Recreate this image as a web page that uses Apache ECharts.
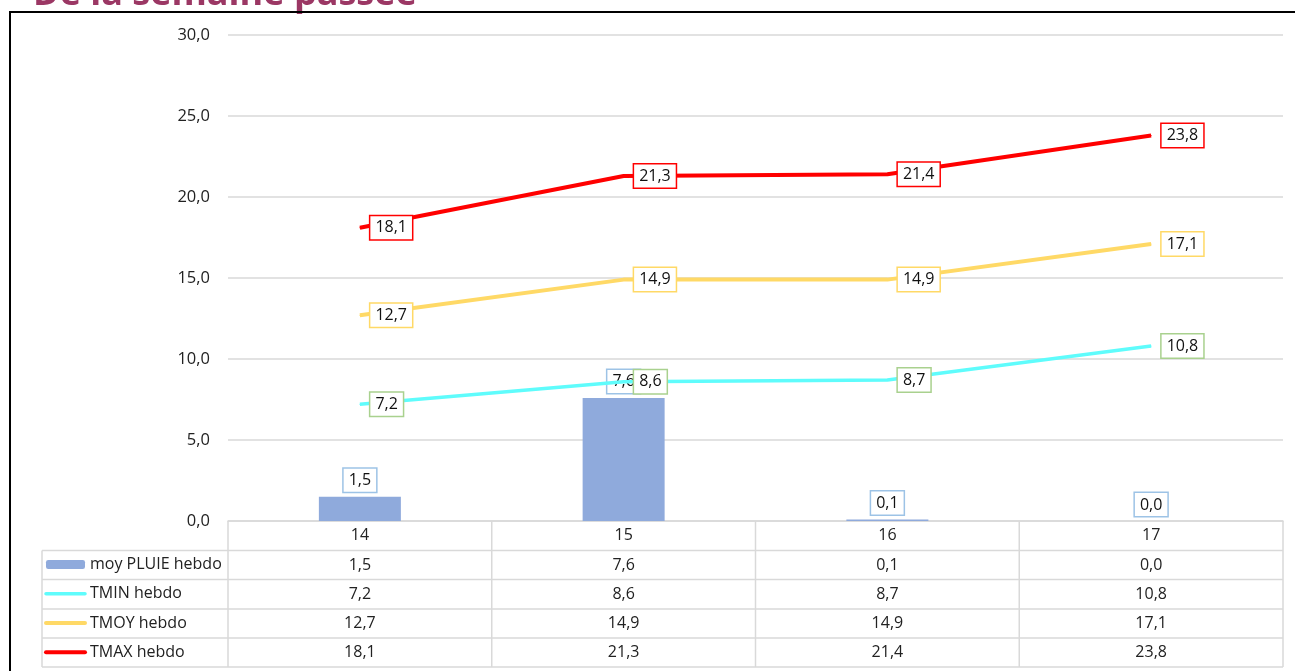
<!DOCTYPE html>
<html><head><meta charset="utf-8">
<script src="https://cdn.jsdelivr.net/npm/echarts@6/dist/echarts.min.js"></script>
<style>html,body{margin:0;padding:0;background:#fff}#c{width:1295px;height:671px}</style>
</head><body><div id="c"></div>
<script>
var categories = ['14', '15', '16', '17'];
var seriesNames = ['moy PLUIE hebdo', 'TMIN hebdo', 'TMOY hebdo', 'TMAX hebdo'];
var pluie = [1.5, 7.6, 0.1, 0.0];
var tmin = [7.2, 8.6, 8.7, 10.8];
var tmoy = [12.7, 14.9, 14.9, 17.1];
var tmax = [18.1, 21.3, 21.4, 23.8];
var yTicks = [0, 5, 10, 15, 20, 25, 30];
var titleText = 'De la semaine passée';

var FONT = '"Open Sans", "Noto Sans", sans-serif';
function fmt(v) { return v.toFixed(1).replace('.', ','); }

var chart = echarts.init(document.getElementById('c'), null, {renderer: 'canvas'});

function lbl(border, pos, dist) {
  return {
    show: true, position: pos, distance: dist,
    formatter: function (p) { return fmt(p.value); },
    color: '#111', fontSize: 16, fontFamily: FONT,
    backgroundColor: '#fff', borderColor: border, borderWidth: 1.5,
    padding: [4, 5, 3, 5]
  };
}
function lineSeries(name, data, color, width, border, z) {
  return {name: name, type: 'line', data: data, symbol: 'circle', symbolSize: 1, showSymbol: true,
    lineStyle: {color: color, width: width}, itemStyle: {color: color},
    label: lbl(border, 'right', 10), z: z};
}
var lineWidths = [0, 3.5, 4, 4];

var option = {
  animation: false,
  backgroundColor: '#fff',
  grid: {left: 228, right: 12, top: 35, bottom: 150, containLabel: false},
  legend: {
    orient: 'vertical', left: 44, top: 550, bottom: 0, padding: 0, itemGap: 0,
    itemWidth: 39, itemHeight: 9, itemStyle: {},
    textStyle: {fontSize: 16, fontFamily: FONT, color: '#222', lineHeight: 29.2},
    data: seriesNames.map(function (n, i) {
      return i === 0 ? {name: n} : {name: n, itemStyle: {opacity: 0}, lineStyle: {width: lineWidths[i], cap: 'round'}};
    })
  },
  xAxis: {
    type: 'category', data: categories,
    axisLine: {lineStyle: {color: '#d9d9d9', width: 1.5}},
    axisTick: {show: false},
    axisLabel: {fontSize: 16, fontFamily: FONT, color: '#222', margin: 6}
  },
  yAxis: {
    type: 'value', min: yTicks[0], max: yTicks[yTicks.length - 1], interval: yTicks[1] - yTicks[0],
    axisLine: {show: false}, axisTick: {show: false},
    splitLine: {lineStyle: {color: '#d9d9d9', width: 1.5}},
    axisLabel: {fontSize: 16.5, fontFamily: FONT, color: '#222', margin: 18,
      formatter: function (v) { return fmt(v); }}
  },
  series: [
    {name: seriesNames[0], type: 'bar', data: pluie, barWidth: 82,
     itemStyle: {color: '#8faadc'}, label: lbl('#9dc3e6', 'top', 5), z: 2},
    lineSeries(seriesNames[1], tmin, '#5ffcfc', lineWidths[1], '#a9d18e', 3),
    lineSeries(seriesNames[2], tmoy, '#ffd966', lineWidths[2], '#ffd966', 4),
    lineSeries(seriesNames[3], tmax, '#ff0000', lineWidths[3], '#ff0000', 5)
  ]
};
chart.setOption(option);

// Data table below the plot
var rowsY = [521, 550.5, 579.5, 609, 638, 667];
var tableLeft = 42;
var values = [pluie, tmin, tmoy, tmax];
var xs = categories.map(function (c, i) { return chart.convertToPixel({xAxisIndex: 0}, i); });
var half = (xs.length > 1 ? (xs[1] - xs[0]) : 200) / 2;
var bounds = [xs[0] - half].concat(xs.map(function (x) { return x + half; }));
var g = [];
var lc = '#d9d9d9';
for (var r = 1; r < rowsY.length; r++) {
  g.push({type: 'line', shape: {x1: tableLeft, y1: rowsY[r], x2: bounds[bounds.length - 1], y2: rowsY[r]},
    style: {stroke: lc, lineWidth: 1.5}, silent: true});
}
bounds.forEach(function (bx) {
  g.push({type: 'line', shape: {x1: bx, y1: rowsY[0], x2: bx, y2: rowsY[rowsY.length - 1]},
    style: {stroke: lc, lineWidth: 1.5}, silent: true});
});
g.push({type: 'line', shape: {x1: tableLeft, y1: rowsY[1], x2: tableLeft, y2: rowsY[rowsY.length - 1]},
  style: {stroke: lc, lineWidth: 1.5}, silent: true});
values.forEach(function (arr, si) {
  var cy = (rowsY[si + 1] + rowsY[si + 2]) / 2;
  arr.forEach(function (v, ci) {
    g.push({type: 'text', x: xs[ci], y: cy, silent: true,
      style: {text: fmt(v), fill: '#222', font: '16px ' + FONT, align: 'center', verticalAlign: 'middle'}});
  });
});
g.push({type: 'rect', shape: {x: 10, y: 12, width: 1300, height: 680},
  style: {fill: null, stroke: '#000', lineWidth: 2}, silent: true, z: 10});
g.push({type: 'text', x: 33, y: 13, silent: true,
  style: {text: titleText, fill: '#9b3764', font: 'bold 36px ' + FONT, align: 'left', verticalAlign: 'bottom'}});
chart.setOption({graphic: g});
</script></body></html>
